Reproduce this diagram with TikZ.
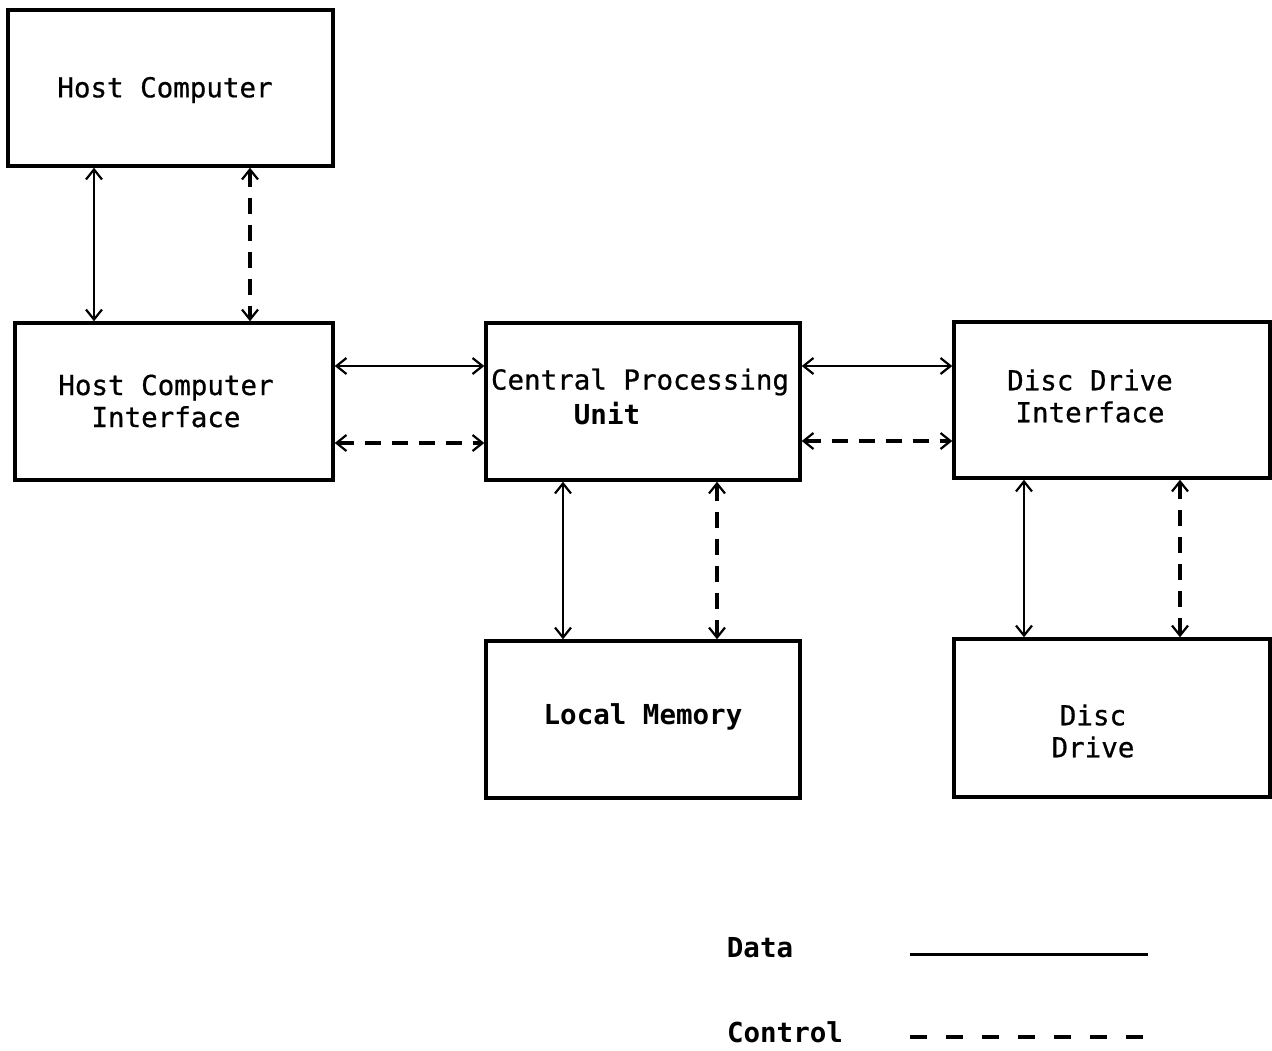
\documentclass[tikz,border=0pt]{standalone}
\usepackage{fontspec}
\setmonofont[FakeBold=0.7,BoldFeatures={FakeBold=0}]{DejaVu Sans Mono}
\usetikzlibrary{arrows.meta}
\begin{document}
\begin{tikzpicture}[x=1pt,y=-1pt,
  blk/.style={draw,line width=3.4pt,rectangle,inner sep=0pt},
  lbl/.style={font=\ttfamily\fontsize{27.5}{32}\selectfont,align=center,inner sep=0pt},
  blbl/.style={lbl,font=\ttfamily\bfseries\fontsize{27.5}{32}\selectfont},
  tip/.style={{Straight Barb[length=10pt,width=16pt,line width=2.2pt]}-{Straight Barb[length=10pt,width=16pt,line width=2.2pt]}},
  data/.style={tip,line width=2.6pt},
  ctrl/.style={tip,line width=3.2pt,dash pattern=on 16pt off 11pt},
]
\useasboundingbox (0,0) rectangle (1272,1050);

% blocks
\node[blk,minimum width=325pt,minimum height=156pt] (hc)  at (170.5,88) {};
\node[blk,minimum width=318pt,minimum height=157pt] (hci) at (174,401.5) {};
\node[blk,minimum width=314pt,minimum height=157pt] (cpu) at (643,401.5) {};
\node[blk,minimum width=316pt,minimum height=156pt] (ddi) at (1112,400) {};
\node[blk,minimum width=314pt,minimum height=157pt] (lm)  at (643,719.5) {};
\node[blk,minimum width=316pt,minimum height=158pt] (dd)  at (1112,718) {};

% block labels
\node[lbl] (thc)  at (165,90) {Host Computer};
\node[lbl] (thci) at (166,401) {Host Computer\\Interface};
\node[lbl] (tcpu1) at (640,382) {Central Processing};
\node[blbl] (tcpu2) at (607,414) {Unit};
\node[lbl] (tddi) at (1090,396) {Disc Drive\\Interface};
\node[blbl] (tlm) at (643,717) {Local Memory};
\node[lbl] (tdd) at (1093,731) {Disc\\Drive};

% column / row guides for the connectors
\coordinate (c1) at (94,0);
\coordinate (c2) at (250,0);
\coordinate (c3) at (563,0);
\coordinate (c4) at (717,0);
\coordinate (c5) at (1024,0);
\coordinate (c6) at (1180,0);
\coordinate (r1) at (0,366);
\coordinate (r2) at (0,443);
\coordinate (r3) at (0,441);

% connectors
\draw[data] (hc.south -| c1) -- (hci.north -| c1);
\draw[ctrl] (hc.south -| c2) -- (hci.north -| c2);
\draw[data] (hci.east |- r1) -- (cpu.west |- r1);
\draw[ctrl] (hci.east |- r2) -- (cpu.west |- r2);
\draw[data] (cpu.east |- r1) -- (ddi.west |- r1);
\draw[ctrl] (cpu.east |- r3) -- (ddi.west |- r3);
\draw[data] (cpu.south -| c3) -- (lm.north -| c3);
\draw[ctrl] (cpu.south -| c4) -- (lm.north -| c4);
\draw[data] (ddi.south -| c5) -- (dd.north -| c5);
\draw[ctrl] (ddi.south -| c6) -- (dd.north -| c6);

% legend
\node[blbl] (ldata) at (760,948) {Data};
\node[blbl] (lctrl) at (785,1032) {Control};
\coordinate (ld1) at (910,954);
\coordinate (ld2) at (1148,954);
\coordinate (lc1) at (910,1037);
\coordinate (lc2) at (1148,1037);
\draw[line width=3pt] (ld1) -- (ld2);
\draw[line width=3.4pt,dash pattern=on 17pt off 19pt] (lc1) -- (lc2);
\end{tikzpicture}
\end{document}
